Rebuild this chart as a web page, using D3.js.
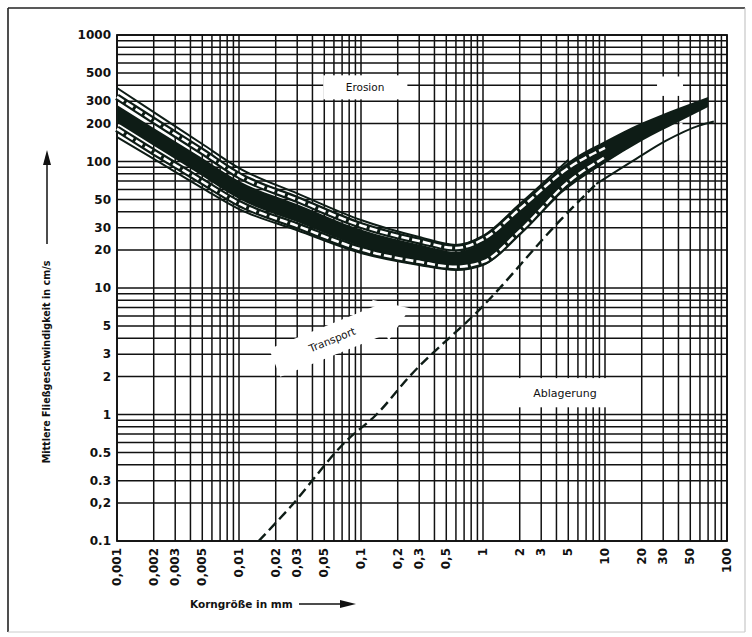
<!DOCTYPE html>
<html><head><meta charset="utf-8">
<script src="https://cdn.jsdelivr.net/npm/d3@7"></script>
<style>body{margin:0;background:#fff}svg{display:block}</style>
</head><body>
<svg id="c" width="752" height="637"></svg>
<script>
// ---- tick labels ----
const xTicks = [0.001,0.002,0.003,0.005,0.01,0.02,0.03,0.05,0.1,0.2,0.3,0.5,1,2,3,5,10,20,30,50,100];
const xTickLabels = ["0,001","0,002","0,003","0,005","0,01","0,02","0,03","0,05","0,1","0,2","0,3","0,5","1","2","3","5","10","20","30","50","100"];
const yTicks = [1000,500,300,200,100,50,30,20,10,5,3,2,1,0.5,0.3,0.2,0.1];
const yTickLabels = ["1000","500","300","200","100","50","30","20","10","5","3","2","1","0.5","0.3","0,2","0.1"];

// ---- erosion band (grain size mm -> velocity cm/s) ----
const erosionSize  = [0.001,0.002,0.005,0.01,0.03,0.1,0.3,0.6,1,2,5,10,20,40,70];
const erosionUpper = [280,184,106.6,70,46,29,22.1,19.4,23.1,42.1,99,145,202,265,324];
const erosionLower = [202,133,76.8,50.5,33.2,21.3,16.8,15.3,16.6,28.2,61.7,97,145,205,270];

// upper thin limit line
const upperLimitSize = [0.001,0.002,0.005,0.01,0.03,0.1,0.3,0.6,1,2,5];
const upperLimit     = [381,246,137.5,88.8,56,34.5,25.3,21.9,25.8,46.1,103];

// upper double (white-dashed) line
const upperDashedSize = [0.001,0.002,0.005,0.01,0.03,0.1,0.3,0.6,1,2,5,10];
const upperDashed     = [324,211,120,77.5,50,31.2,23.5,20.7,24.2,42.1,88.8,128];

// lower double (white-dashed) line
const lowerDashedSize = [0.001,0.002,0.005,0.01,0.03,0.1,0.3,0.6,1,2,5,10];
const lowerDashed     = [181,119,69.5,46.6,31,20.2,16.1,14.7,16.1,28.2,68.9,108];

// lower thin limit line
const lowerLimitSize = [0.001,0.002,0.005,0.01,0.03,0.1,0.3,0.6,1,2,4];
const lowerLimit     = [156,104.7,61.7,42.1,28.6,18.9,15.2,13.9,15.2,27.2,52.4];

// deposition (settling) curve: dashed part, then solid part
const depositionDashedSize = [0.0145,0.026,0.076,0.134,0.25,1,4.47,8.47];
const depositionDashed     = [0.1,0.183,0.62,1.0,2.0,7.2,35.7,66.5];
const depositionSolidSize  = [8.47,18,31.7,59,78];
const depositionSolid      = [66.5,105,146,192,207];

// ---- drawing ----
const svg = d3.select("#c");
const INK = "#111";
const BAND = "#0e1c16";
const sx = d3.scaleLog().domain([0.001,100]).range([117,727]);
const sy = d3.scaleLog().domain([0.1,1000]).range([541,35]);

// frame
svg.append("line").attr("x1",8).attr("y1",8).attr("x2",745).attr("y2",8).attr("stroke","#222").attr("stroke-width",1.6);
svg.append("line").attr("x1",8).attr("y1",8).attr("x2",8).attr("y2",632).attr("stroke","#222").attr("stroke-width",1.6);
svg.append("line").attr("x1",745).attr("y1",8).attr("x2",745).attr("y2",632).attr("stroke","#bbb").attr("stroke-width",1);
svg.append("line").attr("x1",8).attr("y1",632).attr("x2",745).attr("y2",632).attr("stroke","#ccc").attr("stroke-width",1);

// grid
const grid = svg.append("g").attr("stroke",INK).attr("stroke-width",1.5);
grid.selectAll(".v").data(sx.ticks()).join("line")
  .attr("x1",d=>sx(d)).attr("x2",d=>sx(d)).attr("y1",sy(1000)).attr("y2",sy(0.1));
grid.selectAll(".h").data(sy.ticks()).join("line")
  .attr("y1",d=>sy(d)).attr("y2",d=>sy(d)).attr("x1",sx(0.001)).attr("x2",sx(100));
grid.append("rect").attr("x",sx(0.001)).attr("y",sy(1000)).attr("width",sx(100)-sx(0.001)).attr("height",sy(0.1)-sy(1000))
  .attr("fill","none").attr("stroke-width",1.8);

// white label areas
// Erosion
svg.append("rect").attr("x",sx(0.049)).attr("y",sy(480)).attr("width",sx(0.24)-sx(0.049)).attr("height",sy(310)-sy(480)).attr("fill","#fff");
svg.append("rect").attr("x",sx(26.7)).attr("y",sy(470)).attr("width",sx(43.6)-sx(26.7)).attr("height",sy(330)-sy(470)).attr("fill","#fff");
svg.append("line").attr("x1",sx(42)).attr("x2",sx(42)).attr("y1",sy(330)).attr("y2",sy(110))
  .attr("stroke","#fff").attr("stroke-width",3).attr("stroke-dasharray","5,4");
svg.append("text").attr("x",sx(0.108)).attr("y",sy(385)).attr("dy","0.35em").attr("text-anchor","middle")
  .attr("font-family","DejaVu Sans").attr("font-size",10.5).attr("fill",INK).text("Erosion");

// Ablagerung
svg.append("rect").attr("x",sx(1.9)).attr("y",sy(1.94)).attr("width",sx(12.1)-sx(1.9)).attr("height",sy(1.14)-sy(1.94)).attr("fill","#fff");
svg.append("text").attr("x",sx(4.7)).attr("y",sy(1.47)).attr("dy","0.35em").attr("text-anchor","middle")
  .attr("font-family","DejaVu Sans").attr("font-size",11).attr("fill",INK).text("Ablagerung");

// Transport arrow
const tg = svg.append("g").attr("transform",`translate(${sx(0.058)},${sy(3.9)}) rotate(-22)`);
tg.append("polygon").attr("points",[[-62,-15],[52,-15],[52,-22],[84,0],[52,22],[52,15],[-62,15]].map(p=>p.join(",")).join(" "))
  .attr("fill","#fff");
tg.append("text").attr("x",0).attr("y",0).attr("dy","0.35em").attr("text-anchor","middle")
  .attr("font-family","DejaVu Sans").attr("font-size",10.5).attr("fill",INK).text("Transport");

// curves
const pts = (xs,ys)=>xs.map((s,i)=>[s,ys[i]]);
const line = d3.line().x(d=>sx(d[0])).y(d=>sy(d[1])).curve(d3.curveMonotoneX);
const cg = svg.append("g").attr("fill","none").attr("stroke-linecap","butt");

cg.append("path").attr("d",line(pts(upperLimitSize,upperLimit))).attr("stroke",BAND).attr("stroke-width",2);
cg.append("path").attr("d",line(pts(lowerLimitSize,lowerLimit))).attr("stroke",BAND).attr("stroke-width",2);
cg.append("path").attr("d",line(pts(upperDashedSize,upperDashed))).attr("stroke",BAND).attr("stroke-width",7);
cg.append("path").attr("d",line(pts(lowerDashedSize,lowerDashed))).attr("stroke",BAND).attr("stroke-width",7);

const area = d3.area().x(d=>sx(d.s)).y0(d=>sy(d.lo)).y1(d=>sy(d.hi)).curve(d3.curveMonotoneX);
svg.append("path").attr("d",area(erosionSize.map((s,i)=>({s,hi:erosionUpper[i],lo:erosionLower[i]}))))
  .attr("fill",BAND);

const wg = svg.append("g").attr("fill","none");
wg.append("path").attr("d",line(pts(upperDashedSize,upperDashed))).attr("stroke","#fff").attr("stroke-width",2.6).attr("stroke-dasharray","8,3");
wg.append("path").attr("d",line(pts(lowerDashedSize,lowerDashed))).attr("stroke","#fff").attr("stroke-width",2.6).attr("stroke-dasharray","8,3");

// deposition
wg.append("path").attr("d",line(pts(depositionDashedSize,depositionDashed))).attr("stroke",BAND).attr("stroke-width",2.4).attr("stroke-dasharray","10,5");
wg.append("path").attr("d",line(pts(depositionSolidSize,depositionSolid))).attr("stroke",BAND).attr("stroke-width",2);

// tick labels
const lab = svg.append("g").attr("font-family","DejaVu Sans").attr("font-weight","bold").attr("font-size",12).attr("fill",INK);
lab.selectAll(".yl").data(yTicks).join("text")
  .attr("x",sx(0.001)-6).attr("y",d=>sy(d)).attr("dy","0.35em").attr("text-anchor","end")
  .text((d,i)=>yTickLabels[i]);
lab.selectAll(".xl").data(xTicks).join("text")
  .attr("transform",d=>`translate(${sx(d)},${sy(0.1)+7}) rotate(-90)`)
  .attr("dy","0.35em").attr("text-anchor","end")
  .text((d,i)=>xTickLabels[i]);

// axis titles with arrows
svg.append("text").attr("transform","translate(47,362) rotate(-90)").attr("text-anchor","middle").attr("dy","0.35em")
  .attr("font-family","DejaVu Sans").attr("font-weight","bold").attr("font-size",9.6).attr("fill",INK)
  .text("Mittlere Fließgeschwindigkeit in cm/s");
svg.append("line").attr("x1",47).attr("x2",47).attr("y1",244).attr("y2",160).attr("stroke",INK).attr("stroke-width",1.5);
svg.append("polygon").attr("points","47,150 43,165 51,165").attr("fill",INK);

svg.append("text").attr("x",190).attr("y",604).attr("dy","0.35em")
  .attr("font-family","DejaVu Sans").attr("font-weight","bold").attr("font-size",10.5).attr("fill",INK)
  .text("Korngröße in mm");
svg.append("line").attr("x1",299).attr("x2",345).attr("y1",604).attr("y2",604).attr("stroke",INK).attr("stroke-width",1.5);
svg.append("polygon").attr("points","356,604 340,600 340,608").attr("fill",INK);
</script>
</body></html>
